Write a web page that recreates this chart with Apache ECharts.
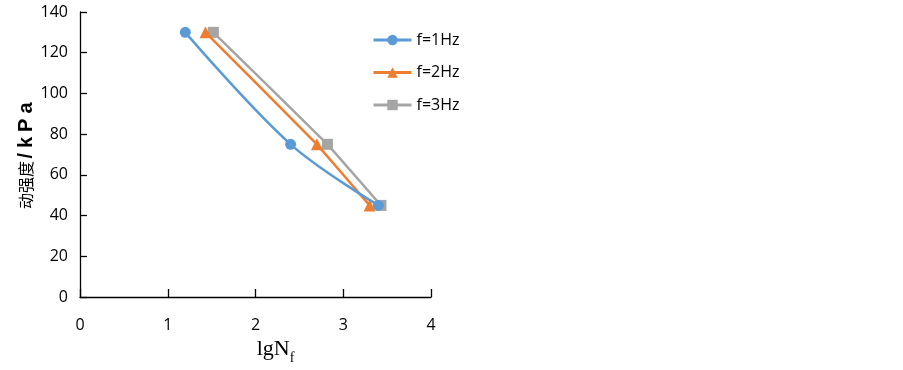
<!DOCTYPE html>
<html><head><meta charset="utf-8">
<script src="https://cdn.jsdelivr.net/npm/echarts@6/dist/echarts.min.js"></script>
<style>html,body{margin:0;padding:0;background:#fff}#c{width:903px;height:370px}</style>
</head><body><div id="c"></div>
<script>
const seriesNames = ['f=1Hz', 'f=2Hz', 'f=3Hz'];
const f1 = [[1.20, 130], [2.40, 75], [3.40, 45]];
const f2 = [[1.43, 130], [2.70, 75], [3.30, 45]];
const f3 = [[1.52, 130], [2.82, 75], [3.43, 45]];
const xTicks = [0, 1, 2, 3, 4];
const yTicks = [0, 20, 40, 60, 80, 100, 120, 140];

const colors = ['#5b9bd5', '#ed7d31', '#a5a5a5'];
const symbols = ['circle', 'triangle', 'rect'];
const sizes = [11, 12, 11];
const datas = [f1, f2, f3];
const smooths = [0.35, 0.05, 0.05];

const chart = echarts.init(document.getElementById('c'), null, { width: 903, height: 370 });
const fontSans = '"Open Sans", "Noto Sans", sans-serif';
chart.setOption({
  animation: false,
  color: colors,
  grid: { left: 80, right: 472, top: 12, bottom: 73, containLabel: false, outerBoundsMode: 'none' },
  legend: {
    orient: 'vertical', left: 367, top: 26, itemGap: 14.5,
    itemWidth: 38, itemHeight: 13,
    lineStyle: { width: 3 },
    textStyle: { fontFamily: fontSans, fontSize: 16, color: '#000', lineHeight: 18 },
    data: seriesNames
  },
  xAxis: {
    type: 'value', min: xTicks[0], max: xTicks[xTicks.length - 1], interval: 1,
    splitLine: { show: false },
    axisLine: { lineStyle: { color: '#000', width: 1.3 } },
    axisTick: { inside: true, length: 8, lineStyle: { color: '#000', width: 1.3 } },
    axisLabel: { margin: 20, fontFamily: fontSans, fontSize: 16, color: '#000' },
    name: '{a|lgN}{b|f}', nameLocation: 'middle', nameGap: 40,
    nameTextStyle: {
      verticalAlign: 'top',
      padding: [0, 0, 0, 40],
      rich: {
        a: { fontFamily: '"Liberation Serif", serif', fontSize: 22, color: '#000', verticalAlign: 'bottom', lineHeight: 22 },
        b: { fontFamily: '"Liberation Serif", serif', fontSize: 14, color: '#000', verticalAlign: 'bottom', lineHeight: 22, padding: [0, 0, -5, 0] }
      }
    }
  },
  yAxis: {
    type: 'value', min: yTicks[0], max: yTicks[yTicks.length - 1], interval: 20,
    splitLine: { show: false },
    axisLine: { show: true, lineStyle: { color: '#000', width: 1.3 } },
    axisTick: { show: true, inside: true, length: 7, lineStyle: { color: '#000', width: 1.3 } },
    axisLabel: { margin: 12, fontFamily: fontSans, fontSize: 16, color: '#000' },
    name: '{c|动强度}{k|/}{k|k}{k|P}{k|a}', nameLocation: 'middle', nameGap: 44,
    nameTextStyle: {
      rich: {
        c: { fontFamily: '"Noto Sans CJK SC", sans-serif', fontSize: 16, color: '#000' },
        k: { fontFamily: '"Liberation Sans", Arial, sans-serif', fontSize: 20, fontWeight: 'bold', color: '#000', padding: [0, 2.5, 0, 2.5] }
      }
    }
  },
  series: datas.map((d, i) => ({
    name: seriesNames[i], type: 'line', data: d,
    smooth: smooths[i],
    symbol: symbols[i], symbolSize: sizes[i],
    lineStyle: { width: 2.5, color: colors[i] },
    itemStyle: { color: colors[i] },
    z: 3 - i
  }))
});
</script></body></html>
